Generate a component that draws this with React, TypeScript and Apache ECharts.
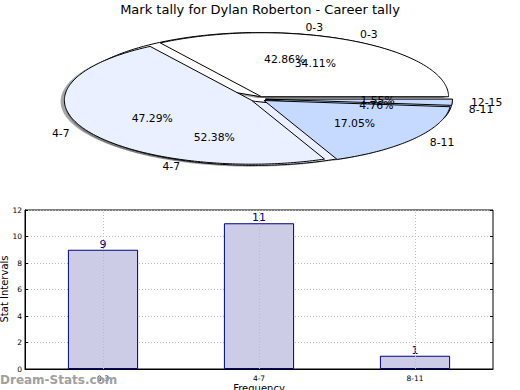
import React, { useEffect, useRef } from "react";
import * as echarts from "echarts";

const chartTitle = "Mark tally for Dylan Roberton - Career tally";
const pieCategories1 = ["0-3", "4-7", "8-11"];
const pieValues1 = [9, 11, 1];
const pieCategories2 = ["0-3", "4-7", "8-11", "12-15"];
const pieValues2 = [44, 61, 22, 2];
const pieColors = ["#ffffff", "#eaf0ff", "#c6d9ff", "#c6d9ff"];
const barCategories = ["0-3", "4-7", "8-11"];
const barValues = [9, 11, 1];
const watermark = "Dream-Stats.com";
const yAxisName = "Stat Intervals";
const xAxisName = "Frequency";

const FONT = "DejaVu Sans";
const CX = 258;
const CY = 99;
const RX = 187;
const RY = 64;
const EXPLODE = 0.04;

function makePieRender(values: number[], labels: string[], zBase: number) {
  const total = values.reduce((a, b) => a + b, 0);
  return (params: any, api: any) => {
    const i = params.dataIndex;
    const v = api.value(0);
    let start = 0;
    for (let j = 0; j < i; j++) start += values[j];
    const a1 = (start / total) * Math.PI * 2;
    const a2 = ((start + v) / total) * Math.PI * 2;
    const mid = (a1 + a2) / 2;
    const cx = CX + EXPLODE * RX * Math.cos(mid);
    const cy = CY - EXPLODE * RY * Math.sin(mid);
    const pts: number[][] = [[cx, cy]];
    const steps = Math.max(2, Math.ceil(((a2 - a1) * 180) / Math.PI));
    for (let s = 0; s <= steps; s++) {
      const t = a1 + ((a2 - a1) * s) / steps;
      pts.push([cx + RX * Math.cos(t), cy - RY * Math.sin(t)]);
    }
    const shadowPts = pts.map((p) => [p[0] - 0.02 * RX, p[1] + 0.02 * RY]);
    const lx = cx + 1.1 * RX * Math.cos(mid);
    const ly = cy - 1.1 * RY * Math.sin(mid);
    const px = cx + 0.6 * RX * Math.cos(mid);
    const py = cy - 0.6 * RY * Math.sin(mid);
    const pct = ((v / total) * 100).toFixed(2) + "%";
    return {
      type: "group",
      children: [
        {
          type: "polygon",
          z2: 0,
          shape: { points: shadowPts },
          style: { fill: "#4d4d4d", opacity: 0.5 },
        },
        {
          type: "polygon",
          z2: zBase,
          shape: { points: pts },
          style: { fill: pieColors[i], stroke: "#000", lineWidth: 1 },
        },
        {
          type: "text",
          z2: 50,
          x: lx,
          y: ly,
          style: {
            text: labels[i],
            align: lx > cx ? "left" : "right",
            verticalAlign: "middle",
            fontSize: 10.8,
            fontFamily: FONT,
            fill: "#000",
          },
        },
        {
          type: "text",
          z2: 50,
          x: px,
          y: py,
          style: {
            text: pct,
            align: "center",
            verticalAlign: "middle",
            fontSize: 10.8,
            fontFamily: FONT,
            fill: "#000",
          },
        },
      ],
    };
  };
}

export default function App() {
  const ref = useRef<HTMLDivElement>(null);
  useEffect(() => {
    if (!ref.current) return;
    const chart = echarts.init(ref.current, undefined, { renderer: "svg" });
    const dotted = { color: "#bbbbbb", type: [1, 2] as any, width: 1 };
    chart.setOption({
      animation: false,
      backgroundColor: "#ffffff",
      textStyle: { fontFamily: FONT },
      title: {
        text: chartTitle,
        left: "center",
        top: 0,
        padding: [3, 5],
        textStyle: { fontSize: 13, fontWeight: "normal", color: "#000", fontFamily: FONT },
      },
      graphic: [
        {
          type: "text",
          left: 0,
          top: 374,
          z: 100,
          style: {
            text: watermark,
            fontSize: 12,
            fontWeight: "bold",
            fontFamily: FONT,
            fill: "#a0a0a0",
          },
        },
        {
          type: "text",
          z: 100,
          x: -1,
          y: 289,
          rotation: Math.PI / 2,
          style: {
            text: yAxisName,
            align: "center",
            verticalAlign: "top",
            fontSize: 10,
            fontFamily: FONT,
            fill: "#000",
          },
        },
      ],
      grid: {
        left: 25,
        right: 27,
        top: 210,
        bottom: 21,
        outerBoundsMode: "none",
        containLabel: false,
        show: true,
        borderColor: "#000",
        borderWidth: 1,
        backgroundColor: "transparent",
      },
      xAxis: {
        type: "category",
        data: barCategories,
        axisLine: { lineStyle: { color: "#000" } },
        axisTick: { show: false },
        axisLabel: { fontSize: 7.5, color: "#000", margin: 5, fontFamily: FONT },
        splitLine: { show: false },
        name: xAxisName,
        nameLocation: "middle",
        nameGap: 14,
        nameTextStyle: { fontSize: 10, color: "#000", fontFamily: FONT },
      },
      yAxis: [
        {
          type: "value",
          min: 0,
          max: 12,
          interval: 2,
          axisLine: { show: true, lineStyle: { color: "#000" } },
          axisTick: { show: true, inside: true, length: 3, lineStyle: { color: "#000" } },
          axisLabel: { fontSize: 7.5, color: "#000", margin: 3, fontFamily: FONT },
          splitLine: { show: true, lineStyle: dotted },
        },
        {
          type: "value",
          position: "right",
          min: 0,
          max: 12,
          interval: 2,
          axisLine: { show: false },
          axisTick: { show: true, inside: true, length: 3, lineStyle: { color: "#000" } },
          axisLabel: { show: false },
          splitLine: { show: false },
        },
      ],
      series: [
        {
          type: "custom",
          coordinateSystem: "none",
          renderItem: makePieRender(pieValues1, pieCategories1, 5),
          data: pieValues1.map((v) => [v]),
          silent: true,
        },
        {
          type: "custom",
          coordinateSystem: "none",
          renderItem: makePieRender(pieValues2, pieCategories2, 10),
          data: pieValues2.map((v) => [v]),
          silent: true,
        },
        {
          type: "bar",
          data: barValues,
          barWidth: "45%",
          itemStyle: { color: "#ccccE6", borderColor: "#000080", borderWidth: 1 },
          label: {
            show: true,
            position: "top",
            distance: 0,
            color: "#000080",
            fontSize: 11,
            fontFamily: FONT,
          },
          markLine: {
            silent: true,
            symbol: "none",
            label: { show: false },
            lineStyle: dotted,
            data: barCategories.map((c) => ({ xAxis: c })),
          },
        },
      ],
    });
    return () => chart.dispose();
  }, []);
  return (
    <div
      ref={ref}
      style={{ position: "fixed", left: 0, top: 0, width: 520, height: 390 }}
    />
  );
}
